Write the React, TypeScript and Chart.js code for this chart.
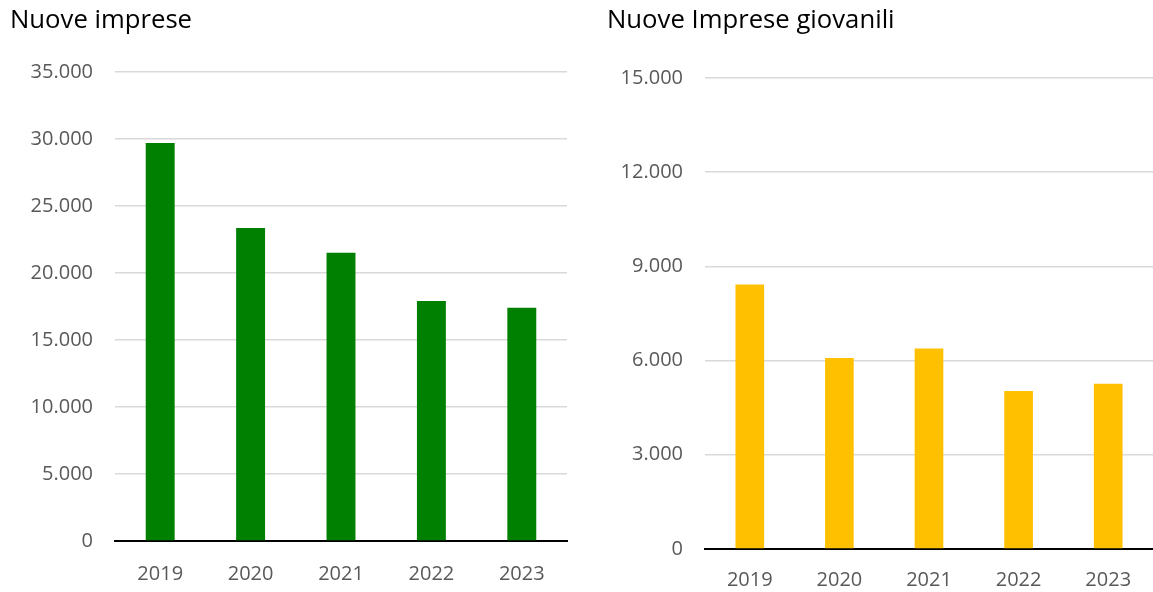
import React, { useEffect, useRef } from "react";
import { Chart, registerables } from "chart.js";

Chart.register(...registerables);

const years = ["2019", "2020", "2021", "2022", "2023"];
const nuoveImprese = [29700, 23350, 21500, 17900, 17400];
const nuoveImpreseGiovanili = [8420, 6080, 6380, 5030, 5260];
const leftTicks = [0, 5000, 10000, 15000, 20000, 25000, 30000, 35000];
const rightTicks = [0, 3000, 6000, 9000, 12000, 15000];

const FONT = "'Open Sans', 'Liberation Sans', sans-serif";

const fmt = (v: number) => String(v).replace(/\B(?=(\d{3})+(?!\d))/g, ".");

type Cfg = {
  title: string;
  data: number[];
  color: string;
  ticks: number[];
  axisWidth: number;
  titleBottom: number;
  xPad: number;
  xHeight: number;
  padRight: number;
  width: number;
};

function BarChart({ cfg }: { cfg: Cfg }) {
  const ref = useRef<HTMLCanvasElement | null>(null);
  useEffect(() => {
    if (!ref.current) return;
    const max = cfg.ticks[cfg.ticks.length - 1];
    const step = cfg.ticks[1] - cfg.ticks[0];
    const chart = new Chart(ref.current, {
      type: "bar",
      data: {
        labels: years,
        datasets: [
          {
            data: cfg.data,
            backgroundColor: cfg.color,
            categoryPercentage: 1,
            barPercentage: 0.32,
          },
        ],
      },
      options: {
        animation: false,
        responsive: false,
        devicePixelRatio: 1,
        layout: { padding: { left: 10, right: cfg.padRight, top: 0, bottom: 0 } },
        plugins: {
          legend: { display: false },
          tooltip: { enabled: false },
          title: {
            display: true,
            text: cfg.title,
            align: "start",
            color: "#000000",
            font: { family: FONT, size: 25.7, weight: "normal" },
            padding: { top: 5, bottom: cfg.titleBottom },
          },
        },
        scales: {
          x: {
            afterFit: (scale: any) => {
              scale.height = cfg.xHeight;
            },
            grid: { display: false, drawTicks: false },
            border: { display: true, color: "#000000", width: 2 },
            ticks: { color: "#595959", font: { family: FONT, size: 20 }, padding: cfg.xPad },
          },
          y: {
            min: 0,
            max: max,
            afterFit: (scale: any) => {
              scale.width = cfg.axisWidth;
            },
            afterBuildTicks: (scale: any) => {
              scale.ticks = cfg.ticks.map((v) => ({ value: v }));
            },
            grid: {
              drawTicks: false,
              lineWidth: 1.5,
              color: (ctx: any) => (ctx.tick && ctx.tick.value === 0 ? "rgba(0,0,0,0)" : "#d9d9d9"),
            },
            border: { display: false },
            ticks: {
              stepSize: step,
              color: "#595959",
              font: { family: FONT, size: 20 },
              padding: 22,
              callback: (v: any) => fmt(Number(v)),
            },
          },
        },
      },
    } as any);
    return () => chart.destroy();
  }, [cfg]);
  return <canvas ref={ref} width={cfg.width} height={592} style={{ display: "block" }} />;
}

const leftCfg: Cfg = {
  title: "Nuove imprese",
  data: nuoveImprese,
  color: "#008000",
  ticks: leftTicks,
  axisWidth: 105,
  titleBottom: 36,
  xPad: 21,
  xHeight: 51,
  padRight: 13,
  width: 580,
};

const rightCfg: Cfg = {
  title: "Nuove Imprese giovanili",
  data: nuoveImpreseGiovanili,
  color: "#FFC000",
  ticks: rightTicks,
  axisWidth: 98,
  titleBottom: 42,
  xPad: 19,
  xHeight: 43,
  padRight: 0,
  width: 556,
};

export default function App() {
  return (
    <div style={{ position: "absolute", left: 0, top: 0, width: 1153, height: 592, background: "#fff" }}>
      <div style={{ position: "absolute", left: 0, top: 0, width: 580, height: 592 }}>
        <BarChart cfg={leftCfg} />
      </div>
      <div style={{ position: "absolute", left: 597, top: 0, width: 556, height: 592 }}>
        <BarChart cfg={rightCfg} />
      </div>
    </div>
  );
}
